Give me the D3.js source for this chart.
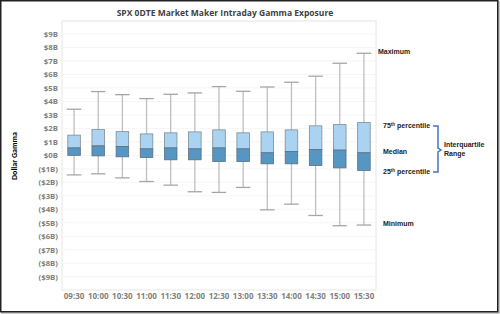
<!DOCTYPE html>
<html>
<head>
<meta charset="utf-8">
<script src="https://cdn.jsdelivr.net/npm/d3@7"></script>
<style>
  body { margin: 0; background: #fff; }
  svg { display: block; font-family: "Open Sans", "DejaVu Sans", sans-serif; }
</style>
</head>
<body>
<div id="chart"></div>
<script>
// times of day
const times = ["09:30", "10:00", "10:30", "11:00", "11:30", "12:00", "12:30",
               "13:00", "13:30", "14:00", "14:30", "15:00", "15:30"];
// dollar gamma, in $B
const maxVals = [3.42, 4.73, 4.50, 4.21, 4.53, 4.63, 5.10, 4.75, 5.07, 5.42, 5.87, 6.83, 7.57];
const q3Vals = [1.50, 1.91, 1.76, 1.59, 1.67, 1.74, 1.89, 1.67, 1.74, 1.89, 2.19, 2.28, 2.43];
const medVals = [0.55, 0.70, 0.65, 0.48, 0.55, 0.48, 0.55, 0.48, 0.19, 0.28, 0.43, 0.39, 0.19];
const q1Vals = [0.00, -0.04, -0.11, -0.16, -0.33, -0.33, -0.46, -0.46, -0.63, -0.63, -0.75, -0.93, -1.12];
const minVals = [-1.45, -1.37, -1.67, -1.94, -2.21, -2.70, -2.75, -2.38, -4.04, -3.62, -4.46, -5.22, -5.17];
const yTicks = d3.range(-9, 10);

const W = 500, H = 314;
const margin = { top: 21, right: 124, bottom: 24, left: 62 };
const width = W - margin.left - margin.right,
      height = H - margin.top - margin.bottom;

const svg = d3.select("#chart").append("svg")
    .attr("width", W)
    .attr("height", H);

// outer frame
svg.append("rect")
    .attr("x", 2).attr("y", 2).attr("width", W - 3).attr("height", H - 3)
    .attr("fill", "none").attr("stroke", "#bbb").attr("stroke-width", 1.5);
svg.append("rect")
    .attr("x", 0.75).attr("y", 0.75).attr("width", W - 3).attr("height", H - 3)
    .attr("fill", "#fff").attr("stroke", "#222").attr("stroke-width", 1.5);

svg.append("text")
    .attr("x", 225).attr("y", 16)
    .attr("text-anchor", "middle")
    .style("font-size", "8.5px").style("font-weight", "bold").style("fill", "#3f3f3f")
    .text("SPX 0DTE Market Maker Intraday Gamma Exposure");

const g = svg.append("g")
    .attr("transform", "translate(" + margin.left + "," + margin.top + ")");

let x = d3.scaleBand().domain(times).range([0, width]).paddingInner(0.48).paddingOuter(0.24);
let y = d3.scaleLinear().domain([-9, 9]).range([255.7, 13]);

// plot area border
g.append("rect")
    .attr("x", 0).attr("y", 0).attr("width", width).attr("height", height)
    .attr("fill", "none").attr("stroke", "#e6e6e6").attr("stroke-width", 1);

// gridlines
g.selectAll(".grid").data(yTicks).enter().append("line")
    .attr("class", "grid")
    .attr("x1", 0).attr("x2", width)
    .attr("y1", d => y(d)).attr("y2", d => y(d))
    .attr("stroke", "#f5f5f5").attr("stroke-width", 1);

let fmt = d => d < 0 ? "($" + (-d) + "B)" : "$" + d + "B";
let yAxis = d3.axisLeft(y).tickValues(yTicks).tickFormat(fmt).tickSize(0).tickPadding(4);
let yAxisGroup = g.append("g").attr("class", "y-axis axis").call(yAxis);
yAxisGroup.select(".domain").remove();
yAxisGroup.selectAll("text")
    .style("font-size", "7.8px").style("font-weight", "bold").style("fill", "#7f7f7f")
    .style("font-family", "\"Open Sans\", sans-serif");

let xAxis = d3.axisBottom(x).tickSize(0).tickPadding(6);
let xAxisGroup = g.append("g").attr("class", "x-axis axis")
    .attr("transform", "translate(0," + (height - 3) + ")").call(xAxis);
xAxisGroup.select(".domain").remove();
xAxisGroup.selectAll("text")
    .style("font-size", "8px").style("font-weight", "bold").style("fill", "#7f7f7f")
    .style("font-family", "\"Open Sans\", sans-serif");

const data = times.map((t, i) => ({ t, max: maxVals[i], q3: q3Vals[i], med: medVals[i], q1: q1Vals[i], min: minVals[i] }));
const bw = x.bandwidth();

const box = g.selectAll(".box").data(data).enter().append("g")
    .attr("class", "box")
    .attr("transform", d => "translate(" + x(d.t) + ",0)");

// whiskers
box.append("line")
    .attr("x1", bw / 2).attr("x2", bw / 2)
    .attr("y1", d => y(d.max)).attr("y2", d => y(d.min))
    .attr("stroke", "#bfbfbf").attr("stroke-width", 1.3);
["max", "min"].forEach(k => {
    box.append("line")
        .attr("x1", -1).attr("x2", bw + 1)
        .attr("y1", d => y(d[k])).attr("y2", d => y(d[k]))
        .attr("stroke", "#a6a6a6").attr("stroke-width", 1.3);
});

box.append("rect")
    .attr("x", 0).attr("width", bw)
    .attr("y", d => y(d.q3)).attr("height", d => y(d.med) - y(d.q3))
    .attr("fill", "#a9d3f1").attr("stroke", "#7f8c99").attr("stroke-width", 0.8);
box.append("rect")
    .attr("x", 0).attr("width", bw)
    .attr("y", d => y(d.med)).attr("height", d => y(d.q1) - y(d.med))
    .attr("fill", "#5596c2").attr("stroke", "#5d6f80").attr("stroke-width", 0.8);

// y axis title
svg.append("text")
    .attr("transform", "translate(17,156) rotate(-90)")
    .attr("text-anchor", "middle")
    .style("font-size", "8px").style("font-weight", "bold").style("fill", "#000")
    .style("font-family", "Carlito, \"Liberation Sans\", sans-serif")
    .text("Dollar Gamma");

// legend notes
const notes = svg.append("g")
    .style("font-family", "\"Liberation Sans\", sans-serif")
    .style("font-size", "7px").style("font-weight", "bold").style("fill", "#222");
notes.append("text").attr("x", 378).attr("y", 54).text("Maximum");
let t75 = notes.append("text").attr("x", 383).attr("y", 128);
t75.append("tspan").text("75");
t75.append("tspan").attr("dy", -2.5).style("font-size", "4.5px").text("th");
t75.append("tspan").attr("dy", 2.5).text(" percentile");
notes.append("text").attr("x", 383).attr("y", 154).text("Median");
let t25 = notes.append("text").attr("x", 383).attr("y", 174);
t25.append("tspan").text("25");
t25.append("tspan").attr("dy", -2.5).style("font-size", "4.5px").text("th");
t25.append("tspan").attr("dy", 2.5).text(" percentile");
notes.append("text").attr("x", 383).attr("y", 226).text("Minimum");
notes.append("text").attr("x", 444).attr("y", 147).text("Interquartile");
notes.append("text").attr("x", 444).attr("y", 156).text("Range");

// bracket
svg.append("path")
    .attr("d", "M433,126 H438 V148 L441,150 L438,152 V172 H433")
    .attr("fill", "none").attr("stroke", "#4472c4").attr("stroke-width", 1.5);
</script>
</body>
</html>
